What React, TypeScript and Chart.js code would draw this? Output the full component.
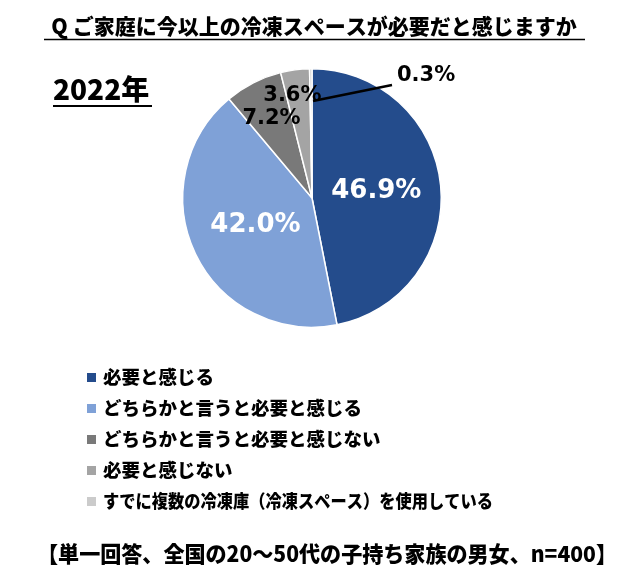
import React, { useEffect, useRef } from "react";
import { Chart, registerables } from "chart.js";

Chart.register(...registerables);

// ---- data ----
const categories = [
  "必要と感じる",
  "どちらかと言うと必要と感じる",
  "どちらかと言うと必要と感じない",
  "必要と感じない",
  "すでに複数の冷凍庫（冷凍スペース）を使用している",
];
const values = [46.9, 42.0, 7.2, 3.6, 0.3];
const titleText = "Q ご家庭に今以上の冷凍スペースが必要だと感じますか";
const yearText = "2022年";
const noteText = "【単一回答、全国の20～50代の子持ち家族の男女、n=400】";

// ---- styles ----
const sliceColors = ["#244C8C", "#7FA1D7", "#797979", "#A4A4A4", "#CBCBCB"];
const labelColors = ["#ffffff", "#ffffff", "#000000", "#000000", "#000000"];
const labelFontSizes = [26, 26, 21, 21, 21];
const labelRadiusFactor = [0.5, 0.485, 0.69, 0.8, 0];
const JP = '"Noto Sans CJK JP", "Noto Sans", sans-serif';
const NUM = '"DejaVu Sans", Verdana, sans-serif';

const overlayPlugin = {
  id: "overlay",
  afterDraw(chart: any) {
    const ctx = chart.ctx as CanvasRenderingContext2D;
    ctx.save();
    ctx.fillStyle = "#000";
    ctx.strokeStyle = "#000";

    // title
    ctx.font = `900 21px ${JP}`;
    ctx.textAlign = "center";
    ctx.textBaseline = "alphabetic";
    ctx.fillText(titleText, 314, 34, 541);
    ctx.lineWidth = 1.6;
    ctx.beginPath();
    ctx.moveTo(44, 39.5);
    ctx.lineTo(585, 39.5);
    ctx.stroke();

    // year
    ctx.font = `900 28px ${JP}`;
    ctx.textAlign = "left";
    ctx.fillText(yearText, 53, 100, 99);
    ctx.lineWidth = 2;
    ctx.beginPath();
    ctx.moveTo(53, 106);
    ctx.lineTo(152, 106);
    ctx.stroke();

    // slice labels
    const meta = chart.getDatasetMeta(0);
    meta.data.forEach((arc: any, i: number) => {
      const p = arc.getProps(["x", "y", "startAngle", "endAngle", "outerRadius"], true);
      const mid = (p.startAngle + p.endAngle) / 2;
      const txt = values[i].toFixed(1) + "%";
      ctx.font = `bold ${labelFontSizes[i]}px ${NUM}`;
      ctx.fillStyle = labelColors[i];
      ctx.textBaseline = "middle";
      if (i === values.length - 1) {
        const sx = p.x + 1;
        const sy = p.y - p.outerRadius * 0.75;
        ctx.strokeStyle = "#000";
        ctx.lineWidth = 2.5;
        ctx.beginPath();
        ctx.moveTo(sx, sy);
        ctx.lineTo(p.x + 80, p.y - 113);
        ctx.stroke();
        ctx.textAlign = "left";
        ctx.fillText(txt, p.x + 85, p.y - 122);
      } else {
        const r = p.outerRadius * labelRadiusFactor[i];
        let lx = p.x + Math.cos(mid) * r;
        const ly = p.y + Math.sin(mid) * r;
        if (i === 3) lx -= 6;
        ctx.textAlign = "center";
        ctx.fillText(txt, lx, ly);
      }
    });

    // legend
    ctx.textAlign = "left";
    ctx.textBaseline = "middle";
    categories.forEach((c, i) => {
      const y = 377 + i * 31;
      ctx.fillStyle = sliceColors[i];
      ctx.fillRect(87, y - 4, 9, 9);
      ctx.fillStyle = "#000";
      ctx.font = `900 18.5px ${JP}`;
      ctx.fillText(c, 103, y, i === 4 ? 390 : undefined as any);
    });

    // note
    ctx.font = `900 22px ${JP}`;
    ctx.textAlign = "center";
    ctx.textBaseline = "middle";
    ctx.fillText(noteText, 327, 554, 580);
    ctx.restore();
  },
};

export default function App() {
  const ref = useRef<HTMLCanvasElement>(null);
  useEffect(() => {
    if (!ref.current) return;
    const chart = new Chart(ref.current, {
      type: "pie",
      data: {
        labels: categories,
        datasets: [
          {
            data: values,
            backgroundColor: sliceColors,
            borderColor: "#ffffff",
            borderWidth: 1.5,
          },
        ],
      },
      options: {
        animation: false,
        responsive: false,
        layout: { padding: { left: 182, right: 198, top: 68, bottom: 258 } },
        plugins: {
          legend: { display: false },
          tooltip: { enabled: false },
          title: { display: false },
        },
      },
      plugins: [overlayPlugin],
    });
    return () => chart.destroy();
  }, []);
  return (
    <div style={{ position: "fixed", left: 0, top: 0, width: 640, height: 586, background: "#fff" }}>
      <canvas ref={ref} width={640} height={586} style={{ width: 640, height: 586 }} />
    </div>
  );
}
